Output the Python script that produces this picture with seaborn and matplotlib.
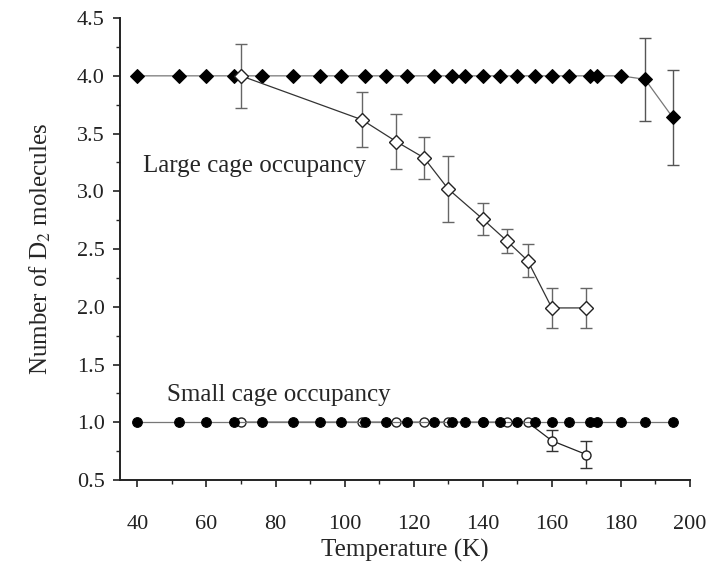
import numpy as np
import pandas as pd
import matplotlib
matplotlib.use("Agg")
import matplotlib.pyplot as plt
import seaborn as sns
from matplotlib.ticker import MultipleLocator

# data
temp_full = [40, 52, 60, 68, 76, 85, 93, 99, 106, 112, 118, 126, 131, 135,
             140, 145, 150, 155, 160, 165, 171, 173, 180, 187, 195]
large_full = [4.0, 4.0, 4.0, 4.0, 4.0, 4.0, 4.0, 4.0, 4.0, 4.0, 4.0, 4.0, 4.0, 4.0,
              4.0, 4.0, 4.0, 4.0, 4.0, 4.0, 4.0, 4.0, 4.0, 3.97, 3.64]
large_full_err = [0, 0, 0, 0, 0, 0, 0, 0, 0, 0, 0, 0, 0, 0,
                  0, 0, 0, 0, 0, 0, 0, 0, 0, 0.36, 0.41]
small_full = [1.0] * len(temp_full)

temp_open = [70, 105, 115, 123, 130, 140, 147, 153, 160, 170]
large_open = [4.0, 3.62, 3.43, 3.29, 3.02, 2.76, 2.57, 2.40, 1.99, 1.99]
large_open_err = [0.28, 0.24, 0.24, 0.18, 0.29, 0.14, 0.10, 0.14, 0.17, 0.17]
small_open = [1.0, 1.0, 1.0, 1.0, 1.0, 1.0, 1.0, 1.0, 0.84, 0.72]
small_open_err = [0, 0, 0, 0, 0, 0, 0, 0, 0.09, 0.12]

sns.set_theme(style="ticks")
plt.rcParams['font.family'] = ['Liberation Serif', 'DejaVu Serif']
plt.rcParams['mathtext.fontset'] = 'stix'

fig = plt.figure(figsize=(7.15, 5.66), dpi=100)
ax = fig.add_axes([0.168, 0.152, 0.797, 0.816])

df_full = pd.DataFrame({'T': temp_full, 'large': large_full, 'small': small_full})
df_open = pd.DataFrame({'T': temp_open, 'large': large_open, 'small': small_open})


def draw_err(x, y, err, color):
    x = np.asarray(x); y = np.asarray(y); err = np.asarray(err)
    m = err > 0
    ax.errorbar(x[m], y[m], yerr=err[m], fmt='none', ecolor=color,
                elinewidth=1.0, capsize=4, capthick=1.0, zorder=2)


draw_err(temp_full, large_full, large_full_err, '#555555')
draw_err(temp_open, large_open, large_open_err, '#666666')
draw_err(temp_open, small_open, small_open_err, '#333333')

# filled series
sns.lineplot(data=df_full, x='T', y='large', ax=ax, color='#777777', lw=0.9,
             marker='D', markersize=7, markerfacecolor='black',
             markeredgecolor='black', zorder=3)
sns.lineplot(data=df_full, x='T', y='small', ax=ax, color='#777777', lw=0.9,
             marker='o', markersize=7, markerfacecolor='black',
             markeredgecolor='black', zorder=3)
# open series
sns.lineplot(data=df_open, x='T', y='large', ax=ax, color='#333333', lw=0.9,
             marker='D', markersize=7, markerfacecolor='white',
             markeredgecolor='#222222', markeredgewidth=1.0, zorder=4)
sns.lineplot(data=df_open, x='T', y='small', ax=ax, color='#222222', lw=0.9,
             marker='o', markersize=6.5, markerfacecolor='white',
             markeredgecolor='#222222', markeredgewidth=1.0, zorder=2.5)

ax.text(41.7, 3.17, 'Large cage occupancy', fontsize=18, ha='left', va='baseline')
ax.text(48.5, 1.18, 'Small cage occupancy', fontsize=18, ha='left', va='baseline')

ax.set_xlim(35, 200)
ax.set_ylim(0.5, 4.5)
ax.xaxis.set_major_locator(MultipleLocator(20))
ax.xaxis.set_minor_locator(MultipleLocator(10))
ax.yaxis.set_major_locator(MultipleLocator(0.5))
ax.yaxis.set_minor_locator(MultipleLocator(0.25))
ax.yaxis.set_major_formatter(matplotlib.ticker.FormatStrFormatter('%.1f'))
ax.tick_params(which='major', direction='out', length=5, width=1.2, labelsize=16, colors='#222222')
ax.tick_params(which='minor', direction='out', length=3, width=1.0)
ax.tick_params(axis='x', which='major', pad=20)
ax.tick_params(axis='y', which='major', pad=6)

sns.despine(ax=ax)
for s in ['left', 'bottom']:
    ax.spines[s].set_linewidth(1.4)
    ax.spines[s].set_color('#222222')

ax.set_xlabel('Temperature (K)', fontsize=18, labelpad=4)
ax.set_ylabel('Number of D$_2$ molecules', fontsize=18, labelpad=17)

fig.savefig('out.png', dpi=100)
